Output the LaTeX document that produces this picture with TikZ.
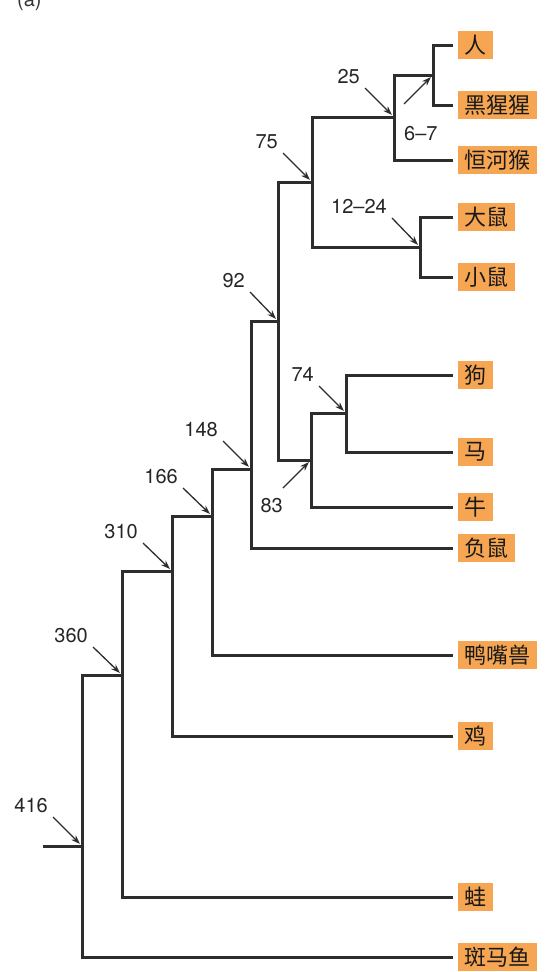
\documentclass[tikz,border=0pt]{standalone}
\usepackage{fontspec}
\setmainfont{TeX Gyre Heros}
\newfontfamily\cjk{Noto Sans CJK SC}
\usetikzlibrary{positioning,arrows.meta}

\definecolor{treegray}{RGB}{45,45,45}
\definecolor{leaforange}{RGB}{246,166,82}

\begin{document}
\begin{tikzpicture}[
  x=1pt, y=-1pt,
  font=\fontsize{20}{22}\selectfont,
  branch/.style={draw=treegray, line width=3pt},
  leaf/.style={fill=leaforange, anchor=west, font=\cjk\fontsize{22}{24}\selectfont,
    text=black!90, inner xsep=6.5pt, inner ysep=0pt, minimum height=28pt, outer xsep=4.5pt},
  num/.style={inner sep=2pt, text=black!85},
  pointer/.style={-{Stealth[length=9pt,width=6.5pt]}, line width=1.3pt, draw=treegray, shorten >=3pt}
]
\useasboundingbox (0,0) rectangle (552,972);

% Panel tag (cut by the top edge)
\node[anchor=base west, inner sep=0pt, text=black!80] (tag) at (17,6) {(a)};

% Leaves
\node[leaf] (human) at (453,45) {人};
\node[leaf] (chimp) at (453,105) {黑猩猩};
\node[leaf] (macaque) at (453,160) {恒河猴};
\node[leaf] (rat) at (453,217) {大鼠};
\node[leaf] (mouse) at (453,277) {小鼠};
\node[leaf] (dog) at (453,375) {狗};
\node[leaf] (horse) at (453,452) {马};
\node[leaf] (cow) at (453,507) {牛};
\node[leaf] (opossum) at (453,548) {负鼠};
\node[leaf] (platypus) at (453,655) {鸭嘴兽};
\node[leaf] (chicken) at (453,736) {鸡};
\node[leaf] (frog) at (453,897) {蛙};
\node[leaf] (zebrafish) at (453,957) {斑马鱼};

% Split points
\coordinate (n67) at (433,75);
\coordinate (n25) at (394,117);
\coordinate (n1224) at (420,247);
\coordinate (n75) at (312,182);
\coordinate (n74) at (346,413);
\coordinate (n83) at (311,460);
\coordinate (n92) at (278,321);
\coordinate (n148) at (251,469);
\coordinate (n166) at (212,516);
\coordinate (n310) at (172,571);
\coordinate (n360) at (122,675);
\coordinate (n416) at (82,846);
\coordinate (stem) at (43,846);

% Branches
\draw[branch] (human.west) -| (n67) |- (chimp.west);
\draw[branch] (n67) -| (n25) |- (macaque.west);
\draw[branch] (rat.west) -| (n1224) |- (mouse.west);
\draw[branch] (n25) -| (n75) |- (n1224);
\draw[branch] (dog.west) -| (n74) |- (horse.west);
\draw[branch] (n74) -| (n83) |- (cow.west);
\draw[branch] (n75) -| (n92) |- (n83);
\draw[branch] (n92) -| (n148) |- (opossum.west);
\draw[branch] (n148) -| (n166) |- (platypus.west);
\draw[branch] (n166) -| (n310) |- (chicken.west);
\draw[branch] (n310) -| (n360) |- (frog.west);
\draw[branch] (n360) -| (n416) |- (zebrafish.west);
\draw[branch] (stem) -- (n416);

% Pointer tails
\coordinate[above left=29pt and 29pt of n25] (a25);
\coordinate[below left=29pt and 29pt of n67] (a67);
\coordinate[above left=29pt and 28pt of n1224] (a1224);
\coordinate[above left=29pt and 29pt of n75] (a75);
\coordinate[above left=27pt and 27pt of n74] (a74);
\coordinate[below left=28pt and 28pt of n83] (a83);
\coordinate[above left=29pt and 28pt of n92] (a92);
\coordinate[above left=28pt and 28pt of n148] (a148);
\coordinate[above left=28pt and 29pt of n166] (a166);
\coordinate[above left=28pt and 29pt of n310] (a310);
\coordinate[above left=28pt and 29pt of n360] (a360);
\coordinate[above left=29pt and 29pt of n416] (a416);

% Ages (million years)
\node[num, above left=2pt and 3pt of a25] (l25) {25};
\node[num, below right=20pt and -2pt of a67] (l67) {6--7};
\node[num, above left=2pt and 3pt of a1224] (l1224) {12--24};
\node[num, above left=2pt and 3pt of a75] (l75) {75};
\node[num, above left=2pt and 3pt of a74] (l74) {74};
\node[num, below left=8pt and -2pt of a83] (l83) {83};
\node[num, above left=2pt and 3pt of a92] (l92) {92};
\node[num, above left=2pt and 3pt of a148] (l148) {148};
\node[num, above left=2pt and 3pt of a166] (l166) {166};
\node[num, above left=2pt and 3pt of a310] (l310) {310};
\node[num, above left=2pt and 3pt of a360] (l360) {360};
\node[num, above left=2pt and 3pt of a416] (l416) {416};

\draw[pointer] (a25) -- (n25);
\draw[pointer] (a67) -- (n67);
\draw[pointer] (a1224) -- (n1224);
\draw[pointer] (a75) -- (n75);
\draw[pointer] (a74) -- (n74);
\draw[pointer] (a83) -- (n83);
\draw[pointer] (a92) -- (n92);
\draw[pointer] (a148) -- (n148);
\draw[pointer] (a166) -- (n166);
\draw[pointer] (a310) -- (n310);
\draw[pointer] (a360) -- (n360);
\draw[pointer] (a416) -- (n416);

\end{tikzpicture}
\end{document}
